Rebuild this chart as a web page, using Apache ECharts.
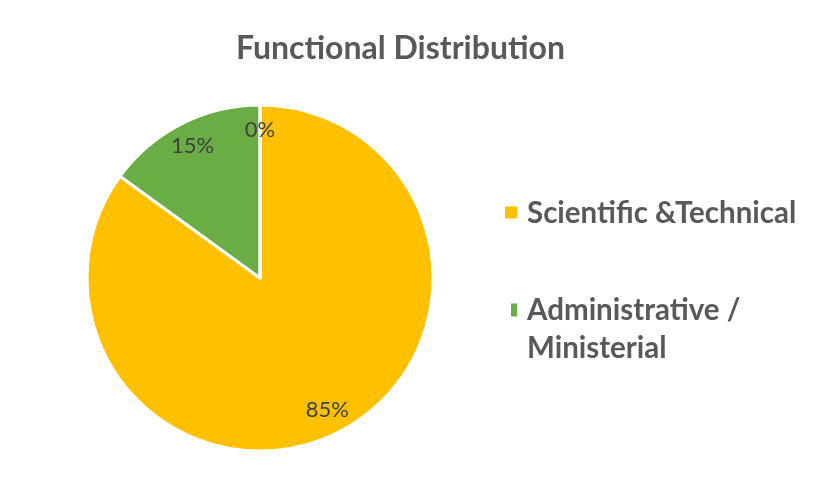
<!DOCTYPE html>
<html><head><meta charset="utf-8">
<script src="https://cdn.jsdelivr.net/npm/echarts@6/dist/echarts.min.js"></script>
<style>html,body{margin:0;padding:0;background:#fff}#c{width:822px;height:486px}</style>
</head><body><div id="c"></div>
<script>
const categories = ['Scientific &Technical', 'Administrative / Ministerial', 'Other'];
const values = [85, 15, 0];
const legendNames = ['Scientific &Technical', 'Administrative / Ministerial'];
const colors = ['#FFC000', '#6AAD45', '#A5A5A5'];
const titleText = 'Functional Distribution';

const pieData = categories.map((n, i) => ({ name: n, value: values[i], itemStyle: { color: colors[i] } }));
const chart = echarts.init(document.getElementById('c'));
const FONT = 'Lato';
const legendText = { fontFamily: FONT, fontSize: 29.5, fontWeight: 'bold', color: '#595959', lineHeight: 38 };
chart.setOption({
  backgroundColor: '#fff',
  animation: false,
  title: {
    text: titleText, left: 231, top: 28,
    textStyle: { fontFamily: FONT, fontSize: 32, fontWeight: 'bold', color: '#595959' }
  },
  legend: {
    data: [
      { name: legendNames[0], icon: 'path://M0 0L12 0L12 12L0 12Z M17 13L17 13' },
      { name: legendNames[1], icon: 'path://M0 0L0 0 M6 0L12 0L12 13L6 13Z M17 13L17 13' }
    ],
    orient: 'vertical', left: 505, top: 194, padding: 0,
    itemWidth: 17, itemHeight: 13, itemGap: 21,
    itemStyle: { borderWidth: 0 },
    formatter: n => n.indexOf(' / ') >= 0 ? '\n' + n.replace(' / ', ' /\n') : n,
    textStyle: legendText
  },
  series: [
    {
      type: 'pie', center: [260, 278], radius: 173, startAngle: 90, clockwise: true,
      data: pieData, label: { show: false }, labelLine: { show: false },
      itemStyle: { borderColor: '#fff', borderWidth: 3 }, silent: true
    },
    {
      type: 'pie', center: [260, 278], radius: [118, 173], startAngle: 90, clockwise: true,
      data: categories.map((n, i) => ({ name: n, value: values[i] })),
      itemStyle: { color: 'rgba(0,0,0,0)' }, silent: true,
      label: { show: true, position: 'inside', formatter: p => Math.round(p.percent) + '%',
        fontFamily: FONT, fontSize: 22, color: '#404040' },
      labelLine: { show: false }
    }
  ]
});
</script></body></html>
